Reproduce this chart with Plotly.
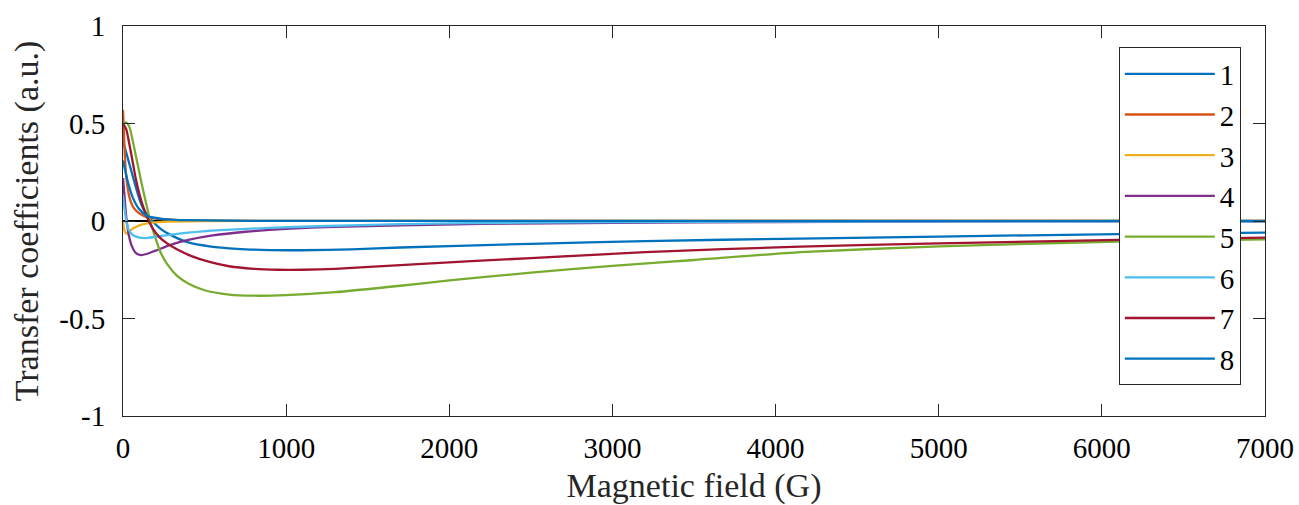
import plotly.graph_objects as go

# field values (G) and coefficients
g1 = [0, 20, 50, 80, 110, 140, 180, 230, 300, 400, 530, 700, 900, 1100, 1400, 1700, 2500, 3200, 4150, 5000, 6100, 7000]
c1 = [0.41, 0.35, 0.26, 0.17, 0.09, 0.04, 0.0, -0.04, -0.075, -0.11, -0.13, -0.143, -0.149, -0.15, -0.145, -0.136, -0.117, -0.103, -0.09, -0.08, -0.067, -0.06]

g2 = [0, 8, 15, 25, 40, 60, 90, 130, 200, 300, 500, 1000, 7000]
c2 = [0.57, 0.4, 0.28, 0.19, 0.12, 0.075, 0.045, 0.025, 0.012, 0.006, 0.002, 0.0005, 0.0]

g3 = [0, 8, 18, 30, 50, 80, 120, 180, 280, 500, 1000, 7000]
c3 = [0.0, -0.045, -0.065, -0.06, -0.045, -0.03, -0.017, -0.008, -0.003, 0.0, 0.001, 0.001]

g4 = [0, 10, 20, 35, 55, 80, 110, 150, 200, 300, 400, 550, 750, 1000, 1300, 1700, 2200, 3000, 4000, 5500, 7000]
c4 = [0.22, 0.12, 0.02, -0.07, -0.13, -0.165, -0.175, -0.168, -0.152, -0.12, -0.097, -0.074, -0.055, -0.04, -0.03, -0.022, -0.015, -0.009, -0.005, -0.002, -0.001]

g5 = [0, 20, 40, 60, 80, 100, 120, 150, 170, 200, 230, 270, 330, 400, 500, 650, 800, 1000, 1300, 1700, 2000, 2500, 3000, 3500, 4150, 5000, 6100, 7000]
c5 = [0.5, 0.505, 0.48, 0.41, 0.33, 0.25, 0.17, 0.06, -0.01, -0.09, -0.16, -0.22, -0.28, -0.32, -0.355, -0.377, -0.383, -0.38, -0.365, -0.332, -0.305, -0.265, -0.23, -0.2, -0.16, -0.13, -0.105, -0.094]

g6 = [0, 10, 20, 35, 60, 100, 150, 250, 400, 600, 900, 1200, 1700, 2500, 3500, 5000, 7000]
c6 = [0.13, 0.06, 0.0, -0.045, -0.072, -0.085, -0.087, -0.075, -0.06, -0.047, -0.035, -0.027, -0.016, -0.008, -0.004, -0.002, -0.001]

g7 = [0, 20, 40, 60, 80, 100, 125, 150, 180, 220, 270, 330, 420, 530, 650, 800, 950, 1100, 1300, 1700, 2500, 3200, 4150, 5000, 6100, 7000]
c7 = [0.5, 0.47, 0.39, 0.3, 0.21, 0.14, 0.07, 0.015, -0.035, -0.08, -0.115, -0.145, -0.18, -0.21, -0.232, -0.245, -0.25, -0.25, -0.245, -0.226, -0.19, -0.16, -0.131, -0.115, -0.097, -0.085]

g8 = [0, 30, 60, 100, 150, 250, 400, 800, 7000]
c8 = [0.31, 0.2, 0.12, 0.06, 0.025, 0.01, 0.004, 0.001, 0.0]

names = ["1", "2", "3", "4", "5", "6", "7", "8"]
colors = ["#0072BD", "#D95319", "#EDB120", "#7E2F8E", "#77AC30", "#4DBEEE", "#A2142F", "#0072BD"]

xticks = [0, 1000, 2000, 3000, 4000, 5000, 6000, 7000]
yticks = [-1, -0.5, 0, 0.5, 1]
yticklabels = ["-1", "-0.5", "0", "0.5", "1"]

series = [(g1, c1), (g2, c2), (g3, c3), (g4, c4), (g5, c5), (g6, c6), (g7, c7), (g8, c8)]

serif = "Liberation Serif"
axcol = "#262626"

fig = go.Figure()
for (g, c), name, col in zip(series, names, colors):
    fig.add_trace(go.Scatter(
        x=g, y=c, mode="lines", name=name, legendgroup=name,
        line=dict(color=col, width=2.3, shape="spline", smoothing=0.6),
    ))

fig.update_layout(
    width=1299, height=505,
    margin=dict(l=123, r=34, t=26, b=89),
    paper_bgcolor="white", plot_bgcolor="white",
    font=dict(family=serif, color=axcol, size=29),
    showlegend=True,
    legend=dict(
        x=0.872, y=0.945, xanchor="left", yanchor="top",
        bgcolor="white", bordercolor=axcol, borderwidth=1,
        font=dict(family=serif, size=29, color="black"),
        traceorder="grouped", tracegroupgap=0, itemwidth=90,
    ),
)
fig.update_xaxes(
    range=[0, 7000], tickvals=xticks, ticktext=[str(t) for t in xticks],
    ticks="inside", ticklen=12, tickcolor=axcol, ticklabelstandoff=6,
    showline=True, linecolor=axcol, linewidth=1, mirror="ticks",
    showgrid=False, zeroline=False, automargin=False,
    title=dict(text="Magnetic field (G)", font=dict(size=34, color=axcol), standoff=12),
    tickfont=dict(size=29, color="black"),
)
fig.update_yaxes(
    range=[-1, 1], tickvals=yticks, ticktext=yticklabels,
    ticks="inside", ticklen=12, tickcolor=axcol, ticklabelstandoff=11,
    showline=True, linecolor=axcol, linewidth=1, mirror="ticks",
    showgrid=False, zeroline=True, zerolinecolor="black", zerolinewidth=1.5,
    automargin=False,
    title=dict(text="Transfer coefficients (a.u.)", font=dict(size=34, color=axcol), standoff=10),
    tickfont=dict(size=29, color="black"),
)

# drop the default page margin so the figure sits at the window's corner
fig.write_html(
    "out.html",
    config={"displayModeBar": False},
    post_script="document.body.style.margin='0';document.body.style.overflow='hidden';",
)
